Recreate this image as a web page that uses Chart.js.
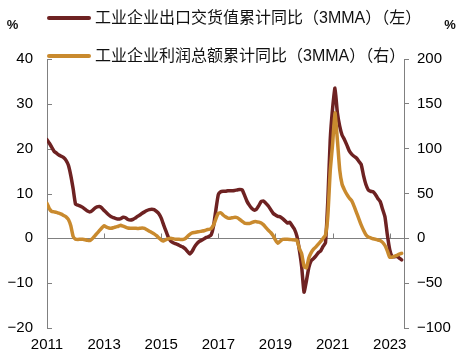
<!DOCTYPE html>
<html>
<head>
<meta charset="utf-8">
<script src="https://cdn.jsdelivr.net/npm/chart.js@4.4.0/dist/chart.umd.min.js"></script>
<style>
html, body { margin: 0; padding: 0; background: #fff; }
#wrap { width: 461px; height: 363px; }
</style>
</head>
<body>
<div id="wrap"><canvas id="chart"></canvas></div>
<script>
// monthly, Jan 2011 .. Jun 2023
const startYear = 2011;
const exportYoY = [
    22.0, 21.2, 20.3, 19.4, 19.0, 18.6, 18.3, 18.0, 17.4, 16.3, 14.0, 11.0,
    7.6, 7.4, 7.2, 6.9, 6.5, 6.1, 5.9, 6.2, 6.7, 7.0, 7.1, 6.8,
    6.2, 5.7, 5.2, 4.8, 4.6, 4.4, 4.3, 4.4, 4.7, 4.6, 4.2, 4.1,
    4.2, 4.5, 4.9, 5.2, 5.6, 5.9, 6.2, 6.4, 6.5, 6.4, 6.0, 5.5,
    4.5, 3.0, 1.6, 0.2, -0.6, -1.0, -1.2, -1.4, -1.7, -1.9, -2.3, -2.9,
    -3.5, -2.9, -1.9, -1.2, -0.7, -0.4, -0.1, 0.2, 0.4, 0.8, 2.8, 6.5,
    9.8, 10.4, 10.5, 10.5, 10.6, 10.6, 10.6, 10.7, 10.8, 10.9, 10.8, 9.6,
    8.3, 7.4, 6.7, 6.3, 6.5, 7.3, 8.2, 8.3, 7.8, 7.2, 6.4, 5.6,
    5.2, 4.9, 4.8, 4.4, 3.9, 3.4, 3.6, 2.8, 2.0, 0.5, -2.5, -6.3,
    -12.0, -9.5, -6.5, -5.0, -4.5, -3.9, -3.2, -2.8, -1.8, -1.0, 8.5, 22.0,
    29.0, 33.5, 28.0, 25.0, 23.0, 22.0, 20.8, 19.5, 18.8, 18.3, 17.9, 17.2,
    16.5, 14.0, 12.0, 10.8, 10.5, 10.4, 9.8, 8.9, 8.2, 6.5, 4.8, 0.8,
    -2.5, -4.1, -4.1, -4.0, -4.4, -4.8
];
const profitYoY = [
    39, 33, 30, 29.5, 29, 28, 27, 25.5, 24, 21, 14, 2,
    -1.0, -1.2, -1.0, -1.0, -1.5, -2.3, -2.5, -0.5, 2.5, 5.5, 8.5, 11.5,
    14.0, 12.5, 11.5, 11.2, 12.0, 12.8, 13.5, 14.5, 13.5, 12.5, 11.5, 11.2,
    11.2, 11.2, 11.0, 11.2, 11.5, 11.0, 9.5, 8.0, 6.5, 5.0, 3.0, 0.5,
    -2.0, -3.0, -1.5, -0.5, 0.0, -0.5, -1.0, -1.0, -1.2, -1.2, -0.5, 2.0,
    4.5, 6.0, 6.5, 7.0, 7.5, 8.0, 8.5, 9.5, 10.0, 11.0, 15.0, 22.0,
    28.0, 28.5, 26.0, 24.0, 22.5, 22.5, 23.0, 23.5, 23.0, 21.0, 19.0, 17.0,
    16.5, 16.5, 17.5, 18.5, 18.6, 18.0, 17.0, 15.0, 12.0, 9.0, 6.5, 3.0,
    -2.0, -5.5, -3.0, -1.2, -1.1, -1.1, -1.2, -1.5, -1.8, -2.0, -11.0, -17.0,
    -31.0, -33.0, -22.0, -16.0, -12.0, -9.5, -6.5, -3.5, 0.0, 3.5, 25.0, 75.0,
    105.0, 140.0, 110.0, 76.0, 60.0, 54.0, 49.0, 45.0, 42.0, 36.0, 29.0, 22.0,
    15.0, 9.0, 4.0, 1.5, 0.5, -0.5, -1.0, -1.9, -2.5, -4.5, -8.0, -14.0,
    -21.0, -21.0, -20.0, -19.0, -17.5, -16.7
];
const leftTicks = [-20, -10, 0, 10, 20, 30, 40];
const rightTicks = [-100, -50, 0, 50, 100, 150, 200];
const yearTicks = [2011, 2013, 2015, 2017, 2019, 2021, 2023];
const seriesNames = ['工业企业出口交货值累计同比（3MMA）（左）', '工业企业利润总额累计同比（3MMA）（右）'];
const colors = ['#6e2222', '#c98a2e'];

// month position on a year axis
const monthPos = exportYoY.map((_, i) => startYear + i / 12);

const gray = '#808080';
const fmt = v => v < 0 ? '\u2212' + Math.abs(v) : String(v);

Chart.defaults.font.family = '"Liberation Sans", Arial, sans-serif';
Chart.defaults.color = '#000';

const decor = {
    id: 'decor',
    beforeDatasetsDraw(chart) {
        const {ctx, chartArea: a, scales: {x, y}} = chart;
        ctx.save();
        ctx.strokeStyle = gray;
        ctx.lineWidth = 1;
        const y0 = Math.round(y.getPixelForValue(0)) + 0.5;
        ctx.beginPath();
        ctx.moveTo(a.left, y0);
        ctx.lineTo(a.right, y0);
        yearTicks.forEach(v => {
            const px = Math.round(x.getPixelForValue(v)) + 0.5;
            ctx.moveTo(px, y0);
            ctx.lineTo(px, y0 - 5);
        });
        leftTicks.forEach(v => {
            const py = Math.round(y.getPixelForValue(v)) + 0.5;
            ctx.moveTo(a.left, py);
            ctx.lineTo(a.left + 5, py);
        });
        ctx.stroke();
        ctx.restore();
    },
    afterDraw(chart) {
        const ctx = chart.ctx;
        ctx.save();
        // legend
        const rows = [18, 56];
        ctx.lineWidth = 4;
        ctx.lineCap = 'round';
        ctx.font = '16px "Liberation Sans", "Noto Sans CJK SC", sans-serif';
        ctx.textBaseline = 'middle';
        ctx.textAlign = 'left';
        seriesNames.forEach((name, i) => {
            ctx.strokeStyle = colors[i];
            ctx.beginPath();
            ctx.moveTo(49, rows[i]);
            ctx.lineTo(89, rows[i]);
            ctx.stroke();
            ctx.fillStyle = '#111';
            ctx.fillText(name, 95, rows[i] + 1);
        });
        // unit marks
        ctx.font = 'bold 13px "Liberation Sans", Arial, sans-serif';
        ctx.textAlign = 'center';
        ctx.fillStyle = '#111';
        ctx.fillText('%', 12.5, 25);
        ctx.fillText('%', 450, 25);
        ctx.restore();
    }
};

new Chart(document.getElementById('chart'), {
    type: 'line',
    data: {
        datasets: [
            {
                label: seriesNames[0],
                data: exportYoY.map((v, i) => ({x: monthPos[i], y: v})),
                borderColor: colors[0],
                yAxisID: 'y',
                order: 1
            },
            {
                label: seriesNames[1],
                data: profitYoY.map((v, i) => ({x: monthPos[i], y: v})),
                borderColor: colors[1],
                yAxisID: 'y1',
                order: 0
            }
        ]
    },
    options: {
        responsive: true,
        maintainAspectRatio: false,
        animation: false,
        layout: {padding: {top: 59, left: 0, right: 0, bottom: 0}},
        elements: {
            point: {radius: 0},
            line: {borderWidth: 3.5, tension: 0.15, borderJoinStyle: 'round', borderCapStyle: 'round'}
        },
        scales: {
            x: {
                type: 'linear',
                min: 2011,
                max: 2023.5,
                afterBuildTicks: s => { s.ticks = yearTicks.map(v => ({value: v})); },
                afterFit: s => { s.height = 35; },
                grid: {display: false, drawTicks: false},
                border: {display: false},
                ticks: {
                    font: {size: 15},
                    padding: 8,
                    maxRotation: 0,
                    autoSkip: false,
                    callback: v => String(v)
                }
            },
            y: {
                position: 'left',
                min: -20,
                max: 40,
                afterBuildTicks: s => { s.ticks = leftTicks.map(v => ({value: v})); },
                afterFit: s => { s.width = 47; },
                grid: {display: false, drawTicks: false},
                border: {display: true, color: gray, width: 1},
                ticks: {font: {size: 15}, padding: 14, callback: fmt}
            },
            y1: {
                position: 'right',
                min: -100,
                max: 200,
                afterBuildTicks: s => { s.ticks = rightTicks.map(v => ({value: v})); },
                afterFit: s => { s.width = 57; },
                grid: {drawOnChartArea: false, drawTicks: true, tickLength: 5, color: gray},
                border: {display: true, color: gray, width: 1},
                ticks: {font: {size: 15}, padding: 8, callback: fmt}
            }
        },
        plugins: {
            legend: {display: false},
            tooltip: {enabled: false}
        }
    },
    plugins: [decor]
});
</script>
</body>
</html>
